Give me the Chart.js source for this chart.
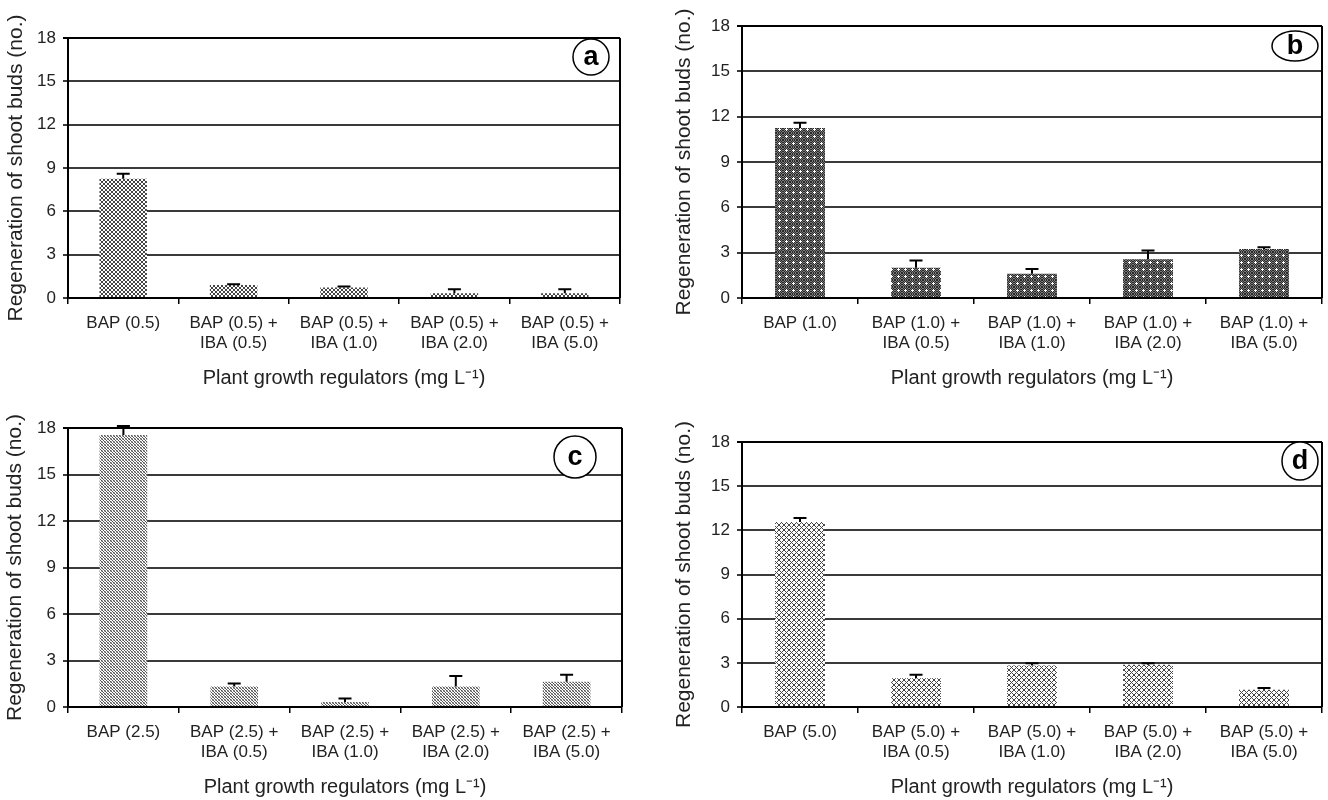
<!DOCTYPE html>
<html>
<head>
<meta charset="utf-8">
<script src="https://cdn.jsdelivr.net/npm/chart.js@4.4.0/dist/chart.umd.min.js"></script>
<style>
  body { margin: 0; background: #fff; }
  #wrap { position: relative; width: 1328px; height: 800px; overflow: hidden; }
  .panel { position: absolute; width: 664px; height: 400px; }
</style>
</head>
<body>
<div id="wrap">
  <div class="panel" style="left:0;top:0"><canvas id="chartA" width="664" height="400"></canvas></div>
  <div class="panel" style="left:664px;top:0"><canvas id="chartB" width="664" height="400"></canvas></div>
  <div class="panel" style="left:0;top:400px"><canvas id="chartC" width="664" height="400"></canvas></div>
  <div class="panel" style="left:664px;top:400px"><canvas id="chartD" width="664" height="400"></canvas></div>
</div>
<script>
// data
const labelsA = ['BAP (0.5)', ['BAP (0.5) +', 'IBA (0.5)'], ['BAP (0.5) +', 'IBA (1.0)'], ['BAP (0.5) +', 'IBA (2.0)'], ['BAP (0.5) +', 'IBA (5.0)']];
const labelsB = ['BAP (1.0)', ['BAP (1.0) +', 'IBA (0.5)'], ['BAP (1.0) +', 'IBA (1.0)'], ['BAP (1.0) +', 'IBA (2.0)'], ['BAP (1.0) +', 'IBA (5.0)']];
const labelsC = ['BAP (2.5)', ['BAP (2.5) +', 'IBA (0.5)'], ['BAP (2.5) +', 'IBA (1.0)'], ['BAP (2.5) +', 'IBA (2.0)'], ['BAP (2.5) +', 'IBA (5.0)']];
const labelsD = ['BAP (5.0)', ['BAP (5.0) +', 'IBA (0.5)'], ['BAP (5.0) +', 'IBA (1.0)'], ['BAP (5.0) +', 'IBA (2.0)'], ['BAP (5.0) +', 'IBA (5.0)']];

const valuesA = [8.25, 0.9, 0.72, 0.33, 0.33];
const errorsA = [0.35, 0.05, 0.08, 0.27, 0.27];
const valuesB = [11.25, 2.0, 1.6, 2.56, 3.25];
const errorsB = [0.35, 0.48, 0.32, 0.58, 0.11];
const valuesC = [17.55, 1.33, 0.32, 1.33, 1.63];
const errorsC = [0.58, 0.19, 0.23, 0.67, 0.45];
const valuesD = [12.57, 1.96, 2.82, 2.87, 1.17];
const errorsD = [0.26, 0.23, 0.16, 0.11, 0.12];

const yTicks = [0, 3, 6, 9, 12, 15, 18];

const xTitle = 'Plant growth regulators (mg L\u207B\u00B9)';
const yTitle = 'Regeneration of shoot buds (no.)';

const fontFam = "'Liberation Sans', Arial, sans-serif";

// fill patterns
function makePattern(size, draw) {
    let c = document.createElement('canvas');
    c.width = size;
    c.height = size;
    let g = c.getContext('2d');
    g.fillStyle = '#fff';
    g.fillRect(0, 0, size, size);
    draw(g);
    return document.getElementById('chartA').getContext('2d').createPattern(c, 'repeat');
}

const crossHatch = makePattern(4, g => {
    g.fillStyle = '#444';
    for (let i = 0; i < 4; i++) {
        g.fillRect(i, i, 1, 1);
        g.fillRect(3 - i, i, 1, 1);
    }
});

const darkPlus = makePattern(7, g => {
    for (let x = 0; x < 7; x++) {
        for (let y = 0; y < 7; y++) {
            g.fillStyle = (x + y) % 2 === 0 ? '#2a2a2a' : '#7a7a7a';
            g.fillRect(x, y, 1, 1);
        }
    }
    g.fillStyle = '#fff';
    g.fillRect(2, 3, 3, 1);
    g.fillRect(3, 2, 1, 3);
});

const fineDots = makePattern(3, g => {
    g.fillStyle = '#555';
    g.fillRect(0, 0, 1, 1);
    g.fillRect(1, 1, 1, 1);
    g.fillRect(2, 2, 1, 1);
    g.fillStyle = '#aaa';
    g.fillRect(2, 0, 1, 1);
    g.fillRect(0, 2, 1, 1);
});

const boldHatch = makePattern(5, g => {
    g.fillStyle = '#444';
    for (let i = 0; i < 5; i++) {
        g.fillRect(i, i, 1, 1);
        g.fillRect(4 - i, i, 1, 1);
    }
});

// upper error bars
const errorBars = {
    id: 'errorBars',
    afterDatasetsDraw(chart) {
        const ctx = chart.ctx;
        const y = chart.scales.y;
        chart.data.datasets.forEach((ds, i) => {
            chart.getDatasetMeta(i).data.forEach((bar, j) => {
                const top = y.getPixelForValue(ds.data[j] + ds.errors[j]);
                ctx.save();
                ctx.strokeStyle = '#000';
                ctx.lineWidth = 2;
                ctx.beginPath();
                ctx.moveTo(bar.x, bar.y);
                ctx.lineTo(bar.x, top);
                ctx.moveTo(bar.x - 6.5, top);
                ctx.lineTo(bar.x + 6.5, top);
                ctx.stroke();
                ctx.restore();
            });
        });
    }
};

// right frame + circled letter
const panelTag = {
    id: 'panelTag',
    afterDraw(chart, args, opts) {
        const ctx = chart.ctx;
        const a = chart.chartArea;
        ctx.save();
        ctx.strokeStyle = '#000';
        ctx.lineWidth = 2;
        ctx.beginPath();
        ctx.moveTo(a.right, a.top);
        ctx.lineTo(a.right, a.bottom);
        ctx.stroke();

        const cx = a.right - opts.dx;
        const cy = a.top + opts.dy;
        ctx.lineWidth = 1.5;
        ctx.fillStyle = '#fff';
        ctx.beginPath();
        ctx.ellipse(cx, cy, opts.rx, opts.ry, 0, 0, Math.PI * 2);
        ctx.fill();
        ctx.stroke();
        ctx.fillStyle = '#000';
        ctx.font = "bold 27px " + fontFam;
        ctx.textAlign = 'center';
        ctx.textBaseline = 'middle';
        ctx.fillText(opts.text, cx, cy + 1);
        ctx.restore();
    }
};

function makeChart(id, labels, values, errors, fill, box, tag) {
    return new Chart(document.getElementById(id), {
        type: 'bar',
        data: {
            labels: labels,
            datasets: [{
                data: values,
                errors: errors,
                backgroundColor: fill,
                borderWidth: 0,
                barPercentage: 0.43,
                categoryPercentage: 1
            }]
        },
        options: {
            responsive: false,
            animation: false,
            layout: {
                padding: { left: 0, top: box.top, right: 664 - box.right, bottom: 0 }
            },
            plugins: {
                legend: { display: false },
                tooltip: { enabled: false },
                panelTag: tag
            },
            scales: {
                x: {
                    afterFit: s => { s.height = 400 - box.bottom; },
                    grid: {
                        drawOnChartArea: false,
                        tickLength: 6,
                        color: '#000',
                        lineWidth: 1.5
                    },
                    border: { color: '#000', width: 2 },
                    ticks: {
                        color: '#222',
                        padding: 10,
                        maxRotation: 0,
                        autoSkip: false,
                        font: { family: fontFam, size: 17, lineHeight: 1.15 }
                    },
                    title: {
                        display: true,
                        text: xTitle,
                        color: '#222',
                        padding: { top: 0, bottom: box.xTitlePad },
                        font: { family: fontFam, size: 20, lineHeight: 1.2 }
                    }
                },
                y: {
                    min: 0,
                    max: 18,
                    afterFit: s => { s.width = box.left; },
                    afterBuildTicks: s => { s.ticks = yTicks.map(v => ({ value: v })); },
                    grid: {
                        color: c => c.tick && c.tick.value === 18 ? '#000' : '#3a3a3a',
                        lineWidth: 2,
                        tickLength: 5
                    },
                    border: { color: '#000', width: 2 },
                    ticks: {
                        color: '#222',
                        padding: 7,
                        font: { family: fontFam, size: 17 }
                    },
                    title: {
                        display: true,
                        text: yTitle,
                        color: '#222',
                        padding: { top: box.yTitlePad, bottom: 0 },
                        font: { family: fontFam, size: 21, lineHeight: 1.2 }
                    }
                }
            }
        },
        plugins: [errorBars, panelTag]
    });
}

makeChart('chartA', labelsA, valuesA, errorsA, crossHatch,
    { left: 68, top: 38, right: 620, bottom: 298, yTitlePad: 4, xTitlePad: 10 },
    { text: 'a', dx: 29, dy: 19, rx: 18, ry: 18 });
makeChart('chartB', labelsB, valuesB, errorsB, darkPlus,
    { left: 78, top: 26, right: 658, bottom: 298, yTitlePad: 8, xTitlePad: 10 },
    { text: 'b', dx: 27, dy: 20, rx: 23, ry: 15 });
makeChart('chartC', labelsC, valuesC, errorsC, fineDots,
    { left: 68, top: 28, right: 622, bottom: 307, yTitlePad: 3, xTitlePad: 1 },
    { text: 'c', dx: 47, dy: 29, rx: 21, ry: 21 });
makeChart('chartD', labelsD, valuesD, errorsD, boldHatch,
    { left: 78, top: 42, right: 658, bottom: 307, yTitlePad: 8, xTitlePad: 1 },
    { text: 'd', dx: 22, dy: 19, rx: 18, ry: 19 });
</script>
</body>
</html>
